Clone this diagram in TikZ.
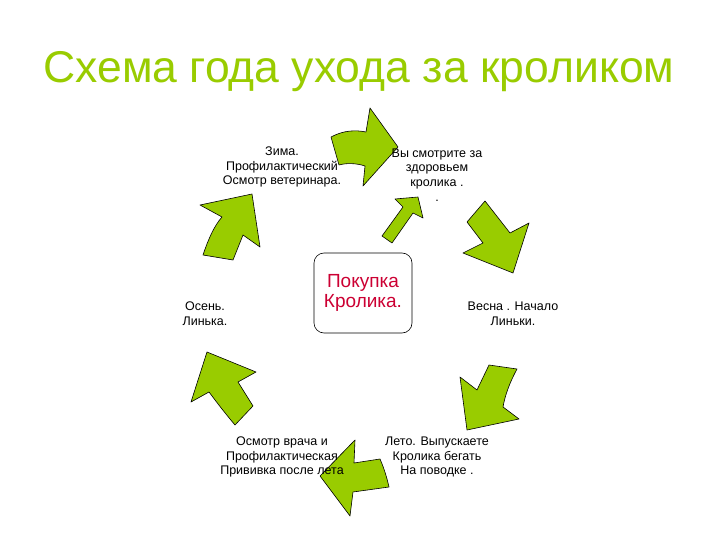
\documentclass[tikz,border=0pt]{standalone}
\usepackage{fontspec}
\setmainfont{Liberation Sans}
\definecolor{leaf}{RGB}{153,204,0}
\definecolor{buyred}{RGB}{204,0,51}
\begin{document}
\begin{tikzpicture}[x=1pt,y=-1pt,
  arrowshape/.style={fill=leaf, draw=black, line width=0.6pt, line join=round},
  lbl/.style={font=\fontsize{12.5}{14.8}\selectfont, align=center, inner sep=0pt},
  centerbox/.style={draw=black, line width=0.6pt, rounded corners=10pt, minimum width=98pt, minimum height=80pt, align=center, text=buyred, font=\fontsize{19}{20}\selectfont}]
\useasboundingbox (0,0) rectangle (720,540);
\fill[white] (0,0) rectangle (720,540);
% arrows
% top, pointing right
\draw[arrowshape] (331,137) .. controls (344,130) and (356,130) .. (366,132) -- (370,108) -- (398,147) -- (363,186) -- (365,166) .. controls (356,163) and (346,163) .. (339,165) -- cycle;
% upper left, pointing up
\draw[arrowshape] (200,205) -- (252,194) -- (260,247) -- (243,235) -- (233,260) -- (203,255) .. controls (208,240) and (214,226) .. (222,217) -- cycle;
% centre small arrow
\draw[arrowshape] (395,199) -- (418,197) -- (423,218) -- (413,213) -- (392,243) -- (382,236) -- (403,207) -- cycle;
% upper right, pointing down-right
\draw[arrowshape] (485,201) -- (510,233) -- (529,223) -- (513,273) -- (463,253) -- (483,243) -- (467,222) -- cycle;
% lower right, pointing down-left
\draw[arrowshape] (489,365) -- (517,369) .. controls (510,382) and (505,395) .. (503,407) -- (519,419) -- (467,430) -- (460,377) -- (477,390) -- cycle;
% bottom, pointing left
\draw[arrowshape] (355,440) -- (354,463) -- (380,459) .. controls (384,468) and (387,478) .. (389,487) -- (353,492) -- (350,516) -- (320,476) -- cycle;
% lower left, pointing up-left
\draw[arrowshape] (207,352) -- (256,372) -- (238,382) -- (253,406) -- (235,425) .. controls (224,412) and (215,400) .. (209,392) -- (191,402) -- cycle;
% title
\node[font=\fontsize{44.5}{50}\selectfont, text=leaf, inner sep=0pt] (title) at (359,72) {Схема года ухода за кроликом};
% centre box
\node[centerbox] (buy) at (363,293) {Покупка\\Кролика.};
% labels
\node[lbl] (winter) at (282,167) {Зима.\\Профилактический\\Осмотр ветеринара.};
\node[lbl] (health) at (437,175) {Вы смотрите за\\здоровьем\\кролика .\\.};
\node[lbl] (autumn) at (205,314) {Осень.\\Линька.};
\node[lbl] (spring) at (513,314) {Весна . Начало\\Линьки.};
\node[lbl] (vet) at (282,457) {Осмотр врача и\\Профилактическая\\Прививка после лета};
\node[lbl] (summer) at (437,457) {Лето. Выпускаете\\Кролика бегать\\На поводке .};
\end{tikzpicture}
\end{document}
